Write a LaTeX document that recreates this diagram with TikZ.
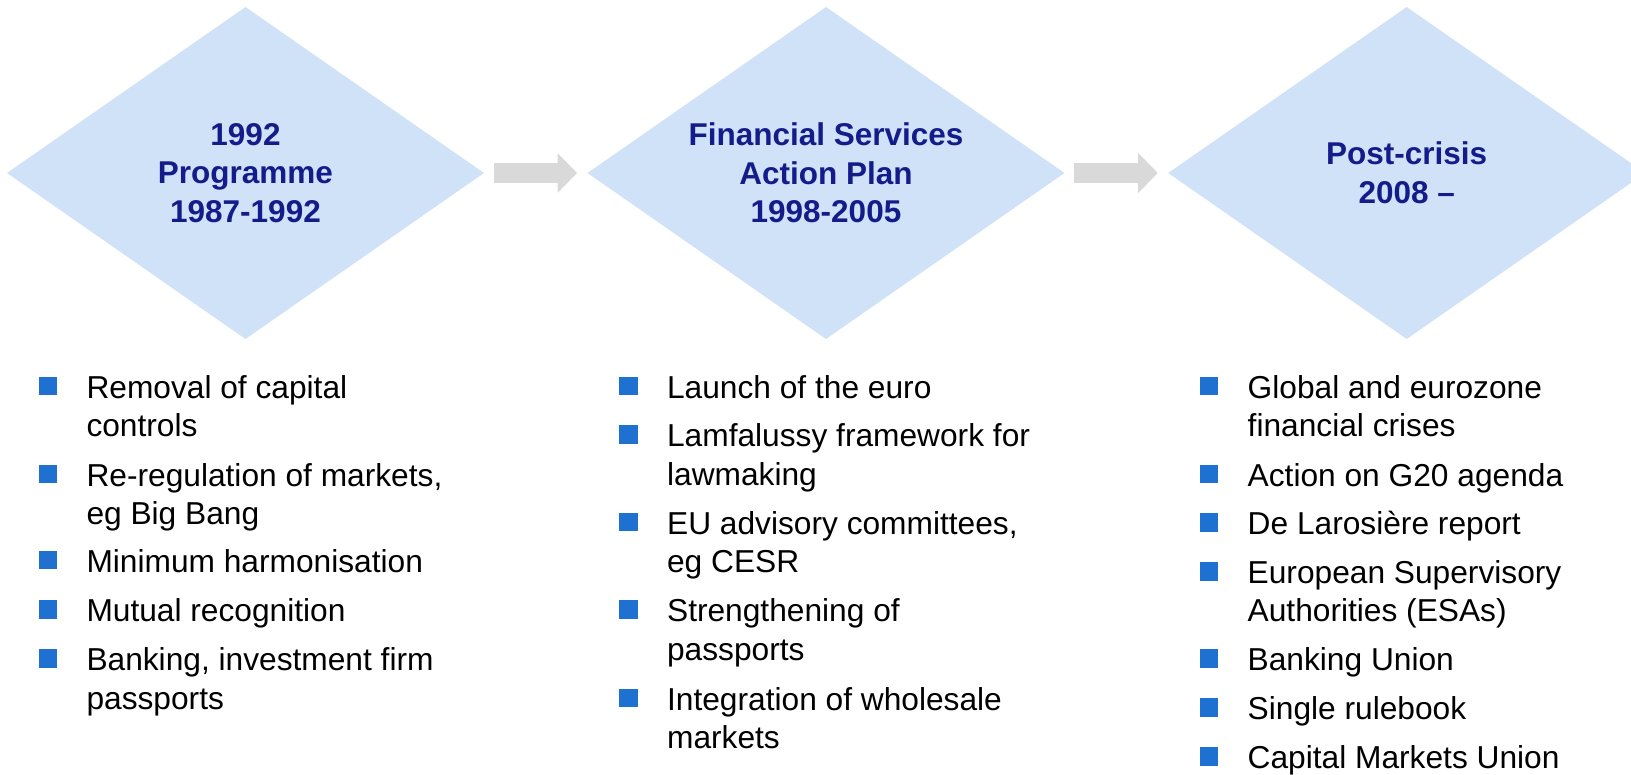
\documentclass[tikz,border=0pt]{standalone}
\usepackage{fontspec}
\setmainfont{Liberation Sans}
\usetikzlibrary{shapes.geometric,arrows.meta}

\definecolor{phasefill}{RGB}{207,226,248}
\definecolor{phasetext}{RGB}{20,28,138}
\definecolor{bulletblue}{RGB}{30,113,208}
\definecolor{flowgray}{RGB}{217,217,217}

\tikzset{
  phase/.style={diamond, aspect=1.437, fill=phasefill, inner sep=0pt, outer sep=0pt,
    minimum width=477pt, minimum height=332pt, align=center, text=phasetext,
    font=\bfseries\fontsize{31.5}{38.6}\selectfont},
  flow/.style={draw=flowgray, line width=20pt,
    -{Triangle[width=40pt,length=19.5pt,line width=0pt]}},
  bulletsq/.style={fill=bulletblue, minimum size=18.5pt, inner sep=0pt, outer sep=0pt},
  itemtext/.style={anchor=base west, inner sep=0pt, outer sep=0pt,
    font=\fontsize{31.7}{38.5}\selectfont},
}

% one list entry: name, bullet x, text x, first baseline y, text
\newcommand\listentry[5]{%
  \node[itemtext] (#1) at (#3,#4) {\parbox[t]{400pt}{\raggedright #5}};
  \node[bulletsq] (#1-sq) at (#2,#4-12) {};
}

\begin{document}
\begin{tikzpicture}[x=1pt,y=-1pt]
\useasboundingbox (0,0) rectangle (1631,774);
\clip (0,0) rectangle (1631,774);

% the three phases
\node[phase] (d1) at (245.5,173) {1992\\Programme\\1987-1992};
\node[phase] (d2) at (826,173) {Financial Services\\Action Plan\\1998-2005};
\node[phase] (d3) at (1406.7,173) {Post-crisis\\2008 \textendash};

% progression arrows
\draw[flow] ([xshift=9.7pt]d1.east) -- ([xshift=-10.5pt]d2.west);
\draw[flow] ([xshift=9.7pt]d2.east) -- ([xshift=-10.5pt]d3.west);

% 1992 Programme
\listentry{a1}{48}{86.5}{398}{Removal of capital\\controls}
\listentry{a2}{48}{86.5}{486}{Re-regulation of markets,\\eg Big Bang}
\listentry{a3}{48}{86.5}{572}{Minimum harmonisation}
\listentry{a4}{48}{86.5}{621.5}{Mutual recognition}
\listentry{a5}{48}{86.5}{670.5}{Banking, investment firm\\passports}

% Financial Services Action Plan
\listentry{b1}{628.3}{667.1}{398}{Launch of the euro}
\listentry{b2}{628.3}{667.1}{446.7}{Lamfalussy framework for\\lawmaking}
\listentry{b3}{628.3}{667.1}{534}{EU advisory committees,\\eg CESR}
\listentry{b4}{628.3}{667.1}{621.7}{Strengthening of\\passports}
\listentry{b5}{628.3}{667.1}{710}{Integration of wholesale\\markets}

% Post-crisis
\listentry{c1}{1208.8}{1247.7}{398}{Global and eurozone\\financial crises}
\listentry{c2}{1208.8}{1247.7}{486}{Action on G20 agenda}
\listentry{c3}{1208.8}{1247.7}{534.3}{De Larosière report}
\listentry{c4}{1208.8}{1247.7}{583.3}{European Supervisory\\Authorities (ESAs)}
\listentry{c5}{1208.8}{1247.7}{670.7}{Banking Union}
\listentry{c6}{1208.8}{1247.7}{719.3}{Single rulebook}
\listentry{c7}{1208.8}{1247.7}{768.3}{Capital Markets Union}
\end{tikzpicture}
\end{document}
